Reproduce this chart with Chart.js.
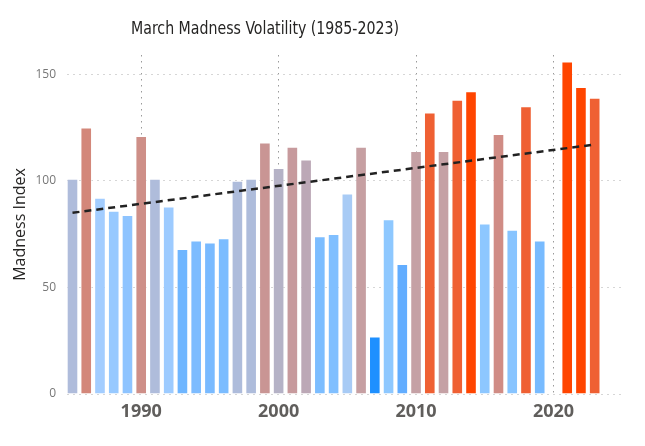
<!DOCTYPE html>
<html>
<head>
<meta charset="utf-8">
<script src="https://cdn.jsdelivr.net/npm/chart.js@4.4.1/dist/chart.umd.min.js"></script>
<style>
  html, body { margin: 0; padding: 0; background: #fff; }
  #wrap { width: 645px; height: 446px; }
</style>
</head>
<body>
<div id="wrap"><canvas id="chart" width="645" height="446"></canvas></div>
<script>
// tournament years (no tournament in 2020)
const years = [1985, 1986, 1987, 1988, 1989, 1990, 1991, 1992, 1993, 1994,
  1995, 1996, 1997, 1998, 1999, 2000, 2001, 2002, 2003, 2004,
  2005, 2006, 2007, 2008, 2009, 2010, 2011, 2012, 2013, 2014,
  2015, 2016, 2017, 2018, 2019, 2021, 2022, 2023];
const madness = [101, 125, 92, 86, 84, 121, 101, 88, 68, 72,
  71, 73, 100, 101, 118, 106, 116, 110, 74, 75,
  94, 116, 27, 82, 61, 114, 132, 114, 138, 142,
  80, 122, 77, 135, 72, 156, 144, 139];
const barColors = ['#AFBCDB', '#D3877A', '#A3CDFF', '#97C9FF', '#8EC4FF', '#CE8F88', '#AFBCDB', '#9DCBFF', '#6FB6FF', '#7DBCFF',
  '#79BAFF', '#7BBCFF', '#AEBCDB', '#AEBCDB', '#C99594', '#B5B2C6', '#C79A9D', '#BCA8B6', '#7CBDFF', '#80BFFF',
  '#A8CBF5', '#C69FA2', '#1E90FF', '#8EC8FF', '#62ADFF', '#C5A1A5', '#EF6033', '#C5A1A5', '#EF6033', '#FF4500',
  '#8DC7FF', '#D08C85', '#87C4FF', '#EF6033', '#78BBFF', '#FF4500', '#FF4500', '#EF6033'];
// trend line end points
const trendYears = [1985, 2023];
const trendValues = [85, 117];
const xTicks = [1990, 2000, 2010, 2020];
const yTicks = [0, 50, 100, 150];

const chartTitle = 'March Madness Volatility (1985-2023)';

// title sits left of centre, squeezed to look like the narrow original face
const titlePlugin = {
  id: 'sideTitle',
  afterDraw(chart) {
    const ctx = chart.ctx;
    ctx.save();
    ctx.font = '18px "DejaVu Sans Condensed", "DejaVu Sans", sans-serif';
    ctx.fillStyle = '#252423';
    ctx.textAlign = 'center';
    ctx.textBaseline = 'alphabetic';
    const w = ctx.measureText(chartTitle).width;
    const sx = Math.min(1, 268 / w);
    ctx.translate(265, 33.5);
    ctx.scale(sx, 1);
    ctx.fillText(chartTitle, 0, 0);
    ctx.restore();
  }
};

const ctx = document.getElementById('chart').getContext('2d');
new Chart(ctx, {
  data: {
    datasets: [
      {
        type: 'line',
        data: trendYears.map((y, i) => ({ x: y, y: trendValues[i] })),
        borderColor: '#222',
        borderWidth: 2.5,
        borderDash: [7, 5],
        pointRadius: 0,
        order: 0
      },
      {
        type: 'bar',
        data: years.map((y, i) => ({ x: y, y: madness[i] })),
        backgroundColor: barColors,
        borderColor: 'rgba(255,255,255,0.45)',
        borderWidth: 1,
        barPercentage: 0.845,
        categoryPercentage: 1,
        order: 1
      }
    ]
  },
  options: {
    responsive: false,
    animation: false,
    layout: { padding: { top: 55, right: 22, bottom: 0, left: 0 } },
    plugins: {
      legend: { display: false },
      tooltip: { enabled: false },
      title: { display: false }
    },
    scales: {
      x: {
        type: 'linear',
        min: 1984.6,
        max: 2025.06,
        offset: false,
        afterBuildTicks: axis => { axis.ticks = xTicks.map(v => ({ value: v })); },
        afterFit: axis => { axis.height = 52; },
        border: { display: false, dash: [1.5, 4.5] },
        grid: { color: '#9a9a9a', offset: false, drawTicks: false, lineWidth: 1 },
        ticks: {
          padding: 7,
          color: '#605E5C',
          font: { family: '"Open Sans", sans-serif', size: 18, weight: 'bold' },
          callback: v => String(v)
        }
      },
      y: {
        min: 0,
        max: 159,
        afterBuildTicks: axis => { axis.ticks = yTicks.map(v => ({ value: v })); },
        afterFit: axis => { axis.width = 67; },
        border: { display: false, dash: [2, 4] },
        grid: { color: '#d6d6d6', drawTicks: false, lineWidth: 1 },
        ticks: {
          padding: 11,
          color: '#777777',
          font: { family: '"Open Sans", sans-serif', size: 12 }
        },
        title: {
          display: true,
          text: 'Madness Index',
          color: '#252423',
          padding: { top: 11, bottom: 0 },
          font: { family: '"Open Sans", sans-serif', size: 16 }
        }
      }
    }
  },
  plugins: [titlePlugin]
});
</script>
</body>
</html>
